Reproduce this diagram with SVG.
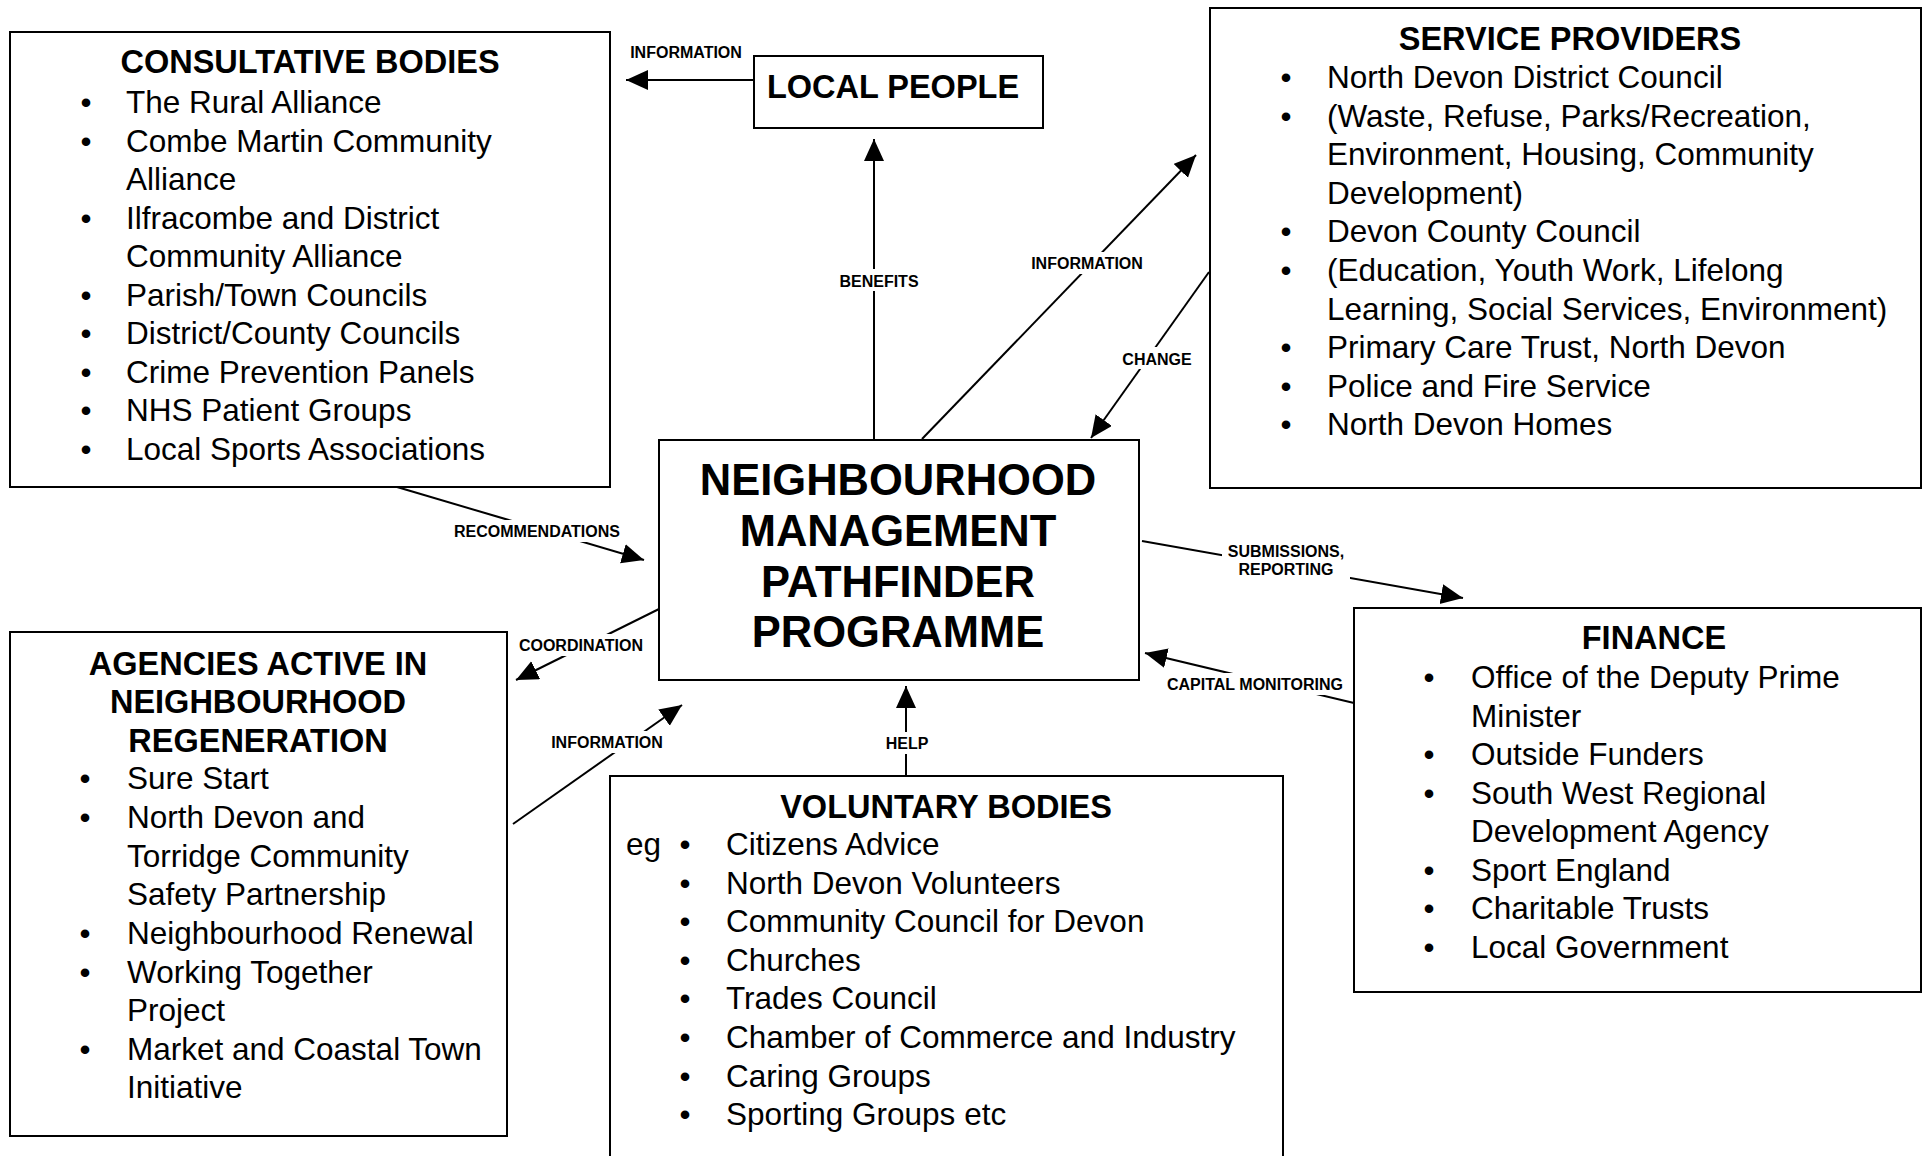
<svg xmlns="http://www.w3.org/2000/svg" width="1925" height="1156" viewBox="0 0 1925 1156">
<defs>
<style>
.box{fill:#fff;stroke:#000;stroke-width:2}
.title{font-family:"Liberation Sans",Arial,sans-serif;font-weight:bold;font-size:32.5px;text-anchor:middle;fill:#000}
.big{font-family:"Liberation Sans",Arial,sans-serif;font-weight:bold;font-size:43.5px;text-anchor:middle;fill:#000}
.item{font-family:"Liberation Sans",Arial,sans-serif;font-size:31.5px;fill:#000}
.bul{font-family:"Liberation Sans",Arial,sans-serif;font-size:31.5px;text-anchor:middle;fill:#000}
.lbl{font-family:"Liberation Sans",Arial,sans-serif;font-weight:bold;font-size:16px;text-anchor:middle;fill:#000}
.conn{stroke:#000;stroke-width:2;fill:none}
.bg{fill:#fff;stroke:none}
</style>
<marker id="arr" markerUnits="userSpaceOnUse" markerWidth="24" markerHeight="22" refX="22" refY="10" orient="auto">
<path d="M0,0 L22,10 L0,20 z" fill="#000"/>
</marker>
</defs>
<rect width="1925" height="1156" fill="#fff"/>

<g id="connectors">
<line class="conn" x1="754" y1="80" x2="626" y2="80" marker-end="url(#arr)"/>
<line class="conn" x1="874" y1="443" x2="874" y2="139" marker-end="url(#arr)"/>
<line class="conn" x1="922" y1="439" x2="1196" y2="155" marker-end="url(#arr)"/>
<line class="conn" x1="1209" y1="272" x2="1091" y2="438" marker-end="url(#arr)"/>
<line class="conn" x1="397" y1="487" x2="644" y2="560" marker-end="url(#arr)"/>
<line class="conn" x1="659" y1="609" x2="516" y2="680" marker-end="url(#arr)"/>
<line class="conn" x1="513" y1="824" x2="682" y2="705" marker-end="url(#arr)"/>
<line class="conn" x1="906" y1="776" x2="906" y2="686" marker-end="url(#arr)"/>
<line class="conn" x1="1142" y1="541" x2="1463" y2="598" marker-end="url(#arr)"/>
<line class="conn" x1="1354" y1="703" x2="1145" y2="653" marker-end="url(#arr)"/>

<rect class="bg" x="834" y="269" width="90" height="22"/>
<text class="lbl" x="879" y="287">BENEFITS</text>
<rect class="bg" x="1025" y="252" width="124" height="22"/>
<text class="lbl" x="1087" y="269">INFORMATION</text>
<rect class="bg" x="1118" y="347" width="78" height="22"/>
<text class="lbl" x="1157" y="365">CHANGE</text>
<rect class="bg" x="448" y="520" width="178" height="22"/>
<text class="lbl" x="537" y="537">RECOMMENDATIONS</text>
<rect class="bg" x="514" y="634" width="134" height="22"/>
<text class="lbl" x="581" y="651">COORDINATION</text>
<rect class="bg" x="546" y="731" width="122" height="22"/>
<text class="lbl" x="607" y="748">INFORMATION</text>
<rect class="bg" x="883" y="732" width="48" height="22"/>
<text class="lbl" x="907" y="749">HELP</text>
<rect class="bg" x="1222" y="540" width="128" height="40"/>
<text class="lbl" x="1286" y="557">SUBMISSIONS,</text>
<text class="lbl" x="1286" y="575">REPORTING</text>
<rect class="bg" x="1162" y="673" width="188" height="22"/>
<text class="lbl" x="1255" y="690">CAPITAL MONITORING</text>
<text class="lbl" x="686" y="58">INFORMATION</text>
</g>

<g id="consultative">
<rect class="box" x="10" y="32" width="600" height="455"/>
<text class="title" x="310" y="73">CONSULTATIVE BODIES</text>
<text class="bul" x="86" y="113">•</text><text class="item" x="126" y="113">The Rural Alliance</text>
<text class="bul" x="86" y="151.5">•</text><text class="item" x="126" y="151.5">Combe Martin Community</text>
<text class="item" x="126" y="190">Alliance</text>
<text class="bul" x="86" y="228.5">•</text><text class="item" x="126" y="228.5">Ilfracombe and District</text>
<text class="item" x="126" y="267">Community Alliance</text>
<text class="bul" x="86" y="305.5">•</text><text class="item" x="126" y="305.5">Parish/Town Councils</text>
<text class="bul" x="86" y="344">•</text><text class="item" x="126" y="344">District/County Councils</text>
<text class="bul" x="86" y="382.5">•</text><text class="item" x="126" y="382.5">Crime Prevention Panels</text>
<text class="bul" x="86" y="421">•</text><text class="item" x="126" y="421">NHS Patient Groups</text>
<text class="bul" x="86" y="459.5">•</text><text class="item" x="126" y="459.5">Local Sports Associations</text>
</g>

<g id="local-people">
<rect class="box" x="754" y="56" width="289" height="72"/>
<text class="title" x="893" y="98">LOCAL PEOPLE</text>
</g>

<g id="service-providers">
<rect class="box" x="1210" y="8" width="711" height="480"/>
<text class="title" x="1570" y="50">SERVICE PROVIDERS</text>
<text class="bul" x="1286" y="88">•</text><text class="item" x="1327" y="88">North Devon District Council</text>
<text class="bul" x="1286" y="126.6">•</text><text class="item" x="1327" y="126.6">(Waste, Refuse, Parks/Recreation,</text>
<text class="item" x="1327" y="165.2">Environment, Housing, Community</text>
<text class="item" x="1327" y="203.8">Development)</text>
<text class="bul" x="1286" y="242.4">•</text><text class="item" x="1327" y="242.4">Devon County Council</text>
<text class="bul" x="1286" y="281">•</text><text class="item" x="1327" y="281">(Education, Youth Work, Lifelong</text>
<text class="item" x="1327" y="319.6">Learning, Social Services, Environment)</text>
<text class="bul" x="1286" y="358.2">•</text><text class="item" x="1327" y="358.2">Primary Care Trust, North Devon</text>
<text class="bul" x="1286" y="396.8">•</text><text class="item" x="1327" y="396.8">Police and Fire Service</text>
<text class="bul" x="1286" y="435.4">•</text><text class="item" x="1327" y="435.4">North Devon Homes</text>
</g>

<g id="nmpp">
<rect class="box" x="659" y="440" width="480" height="240"/>
<text class="big" x="898" y="495">NEIGHBOURHOOD</text>
<text class="big" x="898" y="546">MANAGEMENT</text>
<text class="big" x="898" y="597">PATHFINDER</text>
<text class="big" x="898" y="647">PROGRAMME</text>
</g>

<g id="agencies">
<rect class="box" x="10" y="632" width="497" height="504"/>
<text class="title" x="258" y="675">AGENCIES ACTIVE IN</text>
<text class="title" x="258" y="713">NEIGHBOURHOOD</text>
<text class="title" x="258" y="751.5">REGENERATION</text>
<text class="bul" x="85" y="789">•</text><text class="item" x="127" y="789">Sure Start</text>
<text class="bul" x="85" y="828">•</text><text class="item" x="127" y="828">North Devon and</text>
<text class="item" x="127" y="866.5">Torridge Community</text>
<text class="item" x="127" y="905">Safety Partnership</text>
<text class="bul" x="85" y="944">•</text><text class="item" x="127" y="944">Neighbourhood Renewal</text>
<text class="bul" x="85" y="982.5">•</text><text class="item" x="127" y="982.5">Working Together</text>
<text class="item" x="127" y="1021">Project</text>
<text class="bul" x="85" y="1059.5">•</text><text class="item" x="127" y="1059.5">Market and Coastal Town</text>
<text class="item" x="127" y="1098">Initiative</text>
</g>

<g id="voluntary">
<rect class="box" x="610" y="776" width="673" height="390"/>
<text class="title" x="946" y="818">VOLUNTARY BODIES</text>
<text class="item" x="626" y="855">eg</text>
<text class="bul" x="685" y="855">•</text><text class="item" x="726" y="855">Citizens Advice</text>
<text class="bul" x="685" y="893.6">•</text><text class="item" x="726" y="893.6">North Devon Volunteers</text>
<text class="bul" x="685" y="932.2">•</text><text class="item" x="726" y="932.2">Community Council for Devon</text>
<text class="bul" x="685" y="970.8">•</text><text class="item" x="726" y="970.8">Churches</text>
<text class="bul" x="685" y="1009.4">•</text><text class="item" x="726" y="1009.4">Trades Council</text>
<text class="bul" x="685" y="1048">•</text><text class="item" x="726" y="1048">Chamber of Commerce and Industry</text>
<text class="bul" x="685" y="1086.6">•</text><text class="item" x="726" y="1086.6">Caring Groups</text>
<text class="bul" x="685" y="1125.2">•</text><text class="item" x="726" y="1125.2">Sporting Groups etc</text>
</g>

<g id="finance">
<rect class="box" x="1354" y="608" width="567" height="384"/>
<text class="title" x="1654" y="649">FINANCE</text>
<text class="bul" x="1429" y="688">•</text><text class="item" x="1471" y="688">Office of the Deputy Prime</text>
<text class="item" x="1471" y="726.5">Minister</text>
<text class="bul" x="1429" y="765">•</text><text class="item" x="1471" y="765">Outside Funders</text>
<text class="bul" x="1429" y="803.5">•</text><text class="item" x="1471" y="803.5">South West Regional</text>
<text class="item" x="1471" y="842">Development Agency</text>
<text class="bul" x="1429" y="880.5">•</text><text class="item" x="1471" y="880.5">Sport England</text>
<text class="bul" x="1429" y="919">•</text><text class="item" x="1471" y="919">Charitable Trusts</text>
<text class="bul" x="1429" y="957.5">•</text><text class="item" x="1471" y="957.5">Local Government</text>
</g>
</svg>
